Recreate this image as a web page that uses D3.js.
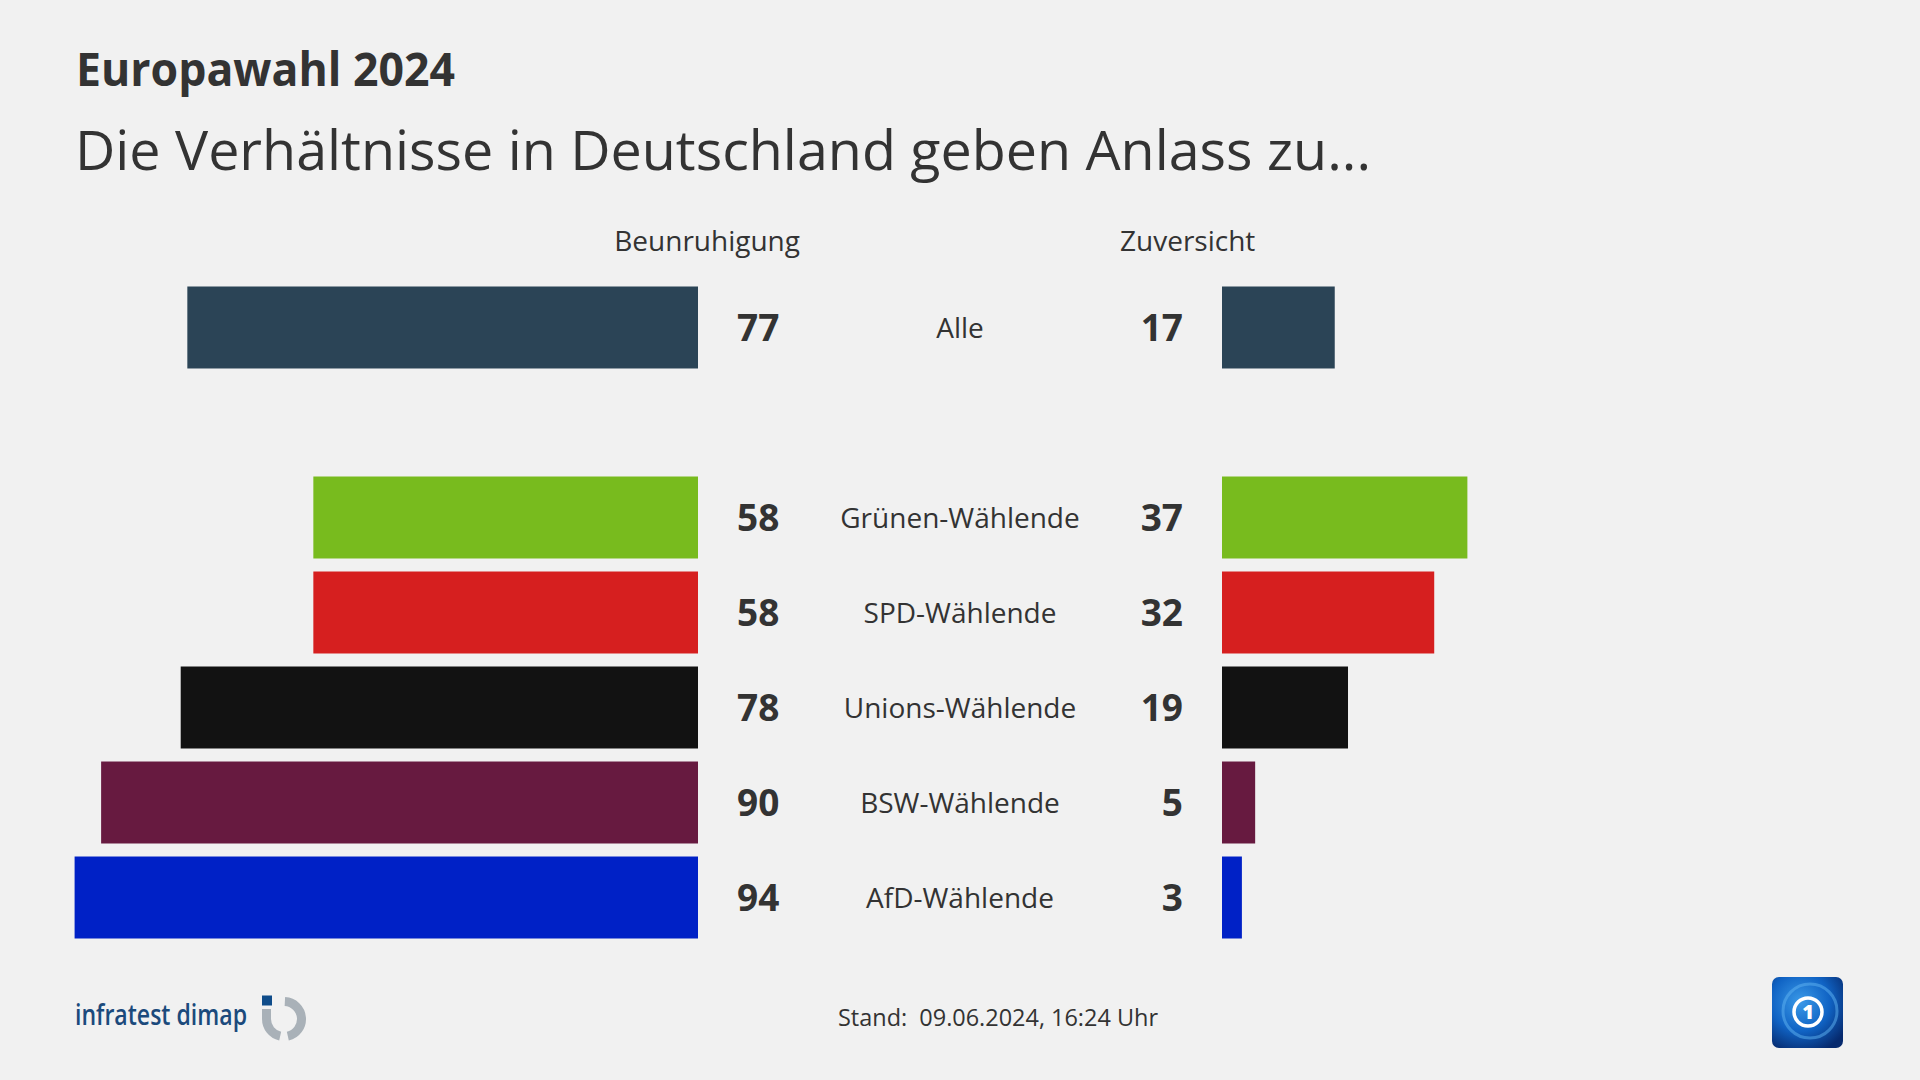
<!DOCTYPE html>
<html>
<head>
<meta charset="utf-8">
<script src="https://cdn.jsdelivr.net/npm/d3@7"></script>
<style>
  html, body { margin: 0; padding: 0; background: #f1f1f1; }
  svg { display: block; }
  text { font-family: "Open Sans", "Noto Sans", sans-serif; fill: #333333; }
</style>
</head>
<body>
<svg id="chart" width="1920" height="1080"></svg>
<script>
// ---- data ----
const categories = ["Alle", "Grünen-Wählende", "SPD-Wählende", "Unions-Wählende", "BSW-Wählende", "AfD-Wählende"];
const beunruhigung = [77, 58, 58, 78, 90, 94];
const zuversicht = [17, 37, 32, 19, 5, 3];
const barColors = ["#2b4456", "#78bb1e", "#d61f1f", "#121212", "#671a40", "#0021c6"];
const headers = ["Beunruhigung", "Zuversicht"];
const title = "Europawahl 2024";
const subtitle = "Die Verhältnisse in Deutschland geben Anlass zu...";
const stand = "Stand:\u00a0 09.06.2024, 16:24 Uhr";
const source = "infratest dimap";

// ---- layout ----
const svg = d3.select("#chart");
const W = 1920, H = 1080;
svg.append("rect").attr("width", W).attr("height", H).attr("fill", "#f1f1f1");

const center = 960;
const leftZero = 698, rightZero = 1222;
const pxPerUnit = 6.632;

const xLeft = d3.scaleLinear().domain([0, 100]).range([leftZero, leftZero - 100 * pxPerUnit]);
const xRight = d3.scaleLinear().domain([0, 100]).range([rightZero, rightZero + 100 * pxPerUnit]);

const bandDomain = [categories[0], "__gap__", ...categories.slice(1)];
const y = d3.scaleBand().domain(bandDomain).range([286.5, 938.5]).paddingInner(0.137).paddingOuter(0);

const rows = categories.map((c, i) => ({ cat: c, left: beunruhigung[i], right: zuversicht[i], color: barColors[i] }));

// titles
svg.append("text").attr("x", 76).attr("y", 86)
  .attr("font-size", 46).attr("font-weight", 700)
  .attr("textLength", 379).attr("lengthAdjust", "spacingAndGlyphs")
  .text(title);
svg.append("text").attr("x", 75).attr("y", 170)
  .attr("font-size", 55).attr("font-weight", 400)
  .attr("textLength", 1296).attr("lengthAdjust", "spacingAndGlyphs")
  .text(subtitle);

// column headers
svg.append("text").attr("x", 800).attr("y", 251).attr("text-anchor", "end")
  .attr("font-size", 28).text(headers[0]);
svg.append("text").attr("x", 1120).attr("y", 251).attr("text-anchor", "start")
  .attr("font-size", 28).text(headers[1]);

// bars
const g = svg.append("g");
g.selectAll("rect.left").data(rows).join("rect")
  .attr("class", "left")
  .attr("x", d => xLeft(d.left))
  .attr("y", d => y(d.cat))
  .attr("width", d => xLeft(0) - xLeft(d.left))
  .attr("height", y.bandwidth())
  .attr("fill", d => d.color);

g.selectAll("rect.right").data(rows).join("rect")
  .attr("class", "right")
  .attr("x", xRight(0))
  .attr("y", d => y(d.cat))
  .attr("width", d => xRight(d.right) - xRight(0))
  .attr("height", y.bandwidth())
  .attr("fill", d => d.color);

// values
g.selectAll("text.lv").data(rows).join("text")
  .attr("class", "lv")
  .attr("x", 737)
  .attr("y", d => y(d.cat) + y.bandwidth() / 2)
  .attr("dy", "0.36em")
  .attr("font-size", 37).attr("font-weight", 700)
  .attr("text-anchor", "start")
  .text(d => d.left);

g.selectAll("text.rv").data(rows).join("text")
  .attr("class", "rv")
  .attr("x", 1183)
  .attr("y", d => y(d.cat) + y.bandwidth() / 2)
  .attr("dy", "0.36em")
  .attr("font-size", 37).attr("font-weight", 700)
  .attr("text-anchor", "end")
  .text(d => d.right);

// category labels
g.selectAll("text.cat").data(rows).join("text")
  .attr("class", "cat")
  .attr("x", center)
  .attr("y", d => y(d.cat) + y.bandwidth() / 2)
  .attr("dy", "0.36em")
  .attr("font-size", 28)
  .attr("text-anchor", "middle")
  .text(d => d.cat);

// footer: stand
svg.append("text").attr("x", 838).attr("y", 1026).attr("text-anchor", "start")
  .attr("font-size", 24)
  .attr("textLength", 320).attr("lengthAdjust", "spacingAndGlyphs")
  .text(stand);

// footer: infratest dimap logo
svg.append("text").attr("x", 75).attr("y", 1025)
  .attr("font-size", 28).attr("font-weight", 600).style("fill", "#1b4a7c")
  .attr("textLength", 172).attr("lengthAdjust", "spacingAndGlyphs")
  .text(source);
const logo = svg.append("g").attr("transform", "translate(284,1019)");
const ringArc = d3.arc().innerRadius(13).outerRadius(22);
logo.append("path").attr("d", ringArc({ startAngle: 0.05, endAngle: Math.PI * 0.93 })).attr("fill", "#a9b1b8");
logo.append("path").attr("d", ringArc({ startAngle: Math.PI * 1.07, endAngle: Math.PI * 1.5 })).attr("fill", "#a9b1b8");
logo.append("rect").attr("x", -22).attr("y", -10).attr("width", 9).attr("height", 10).attr("fill", "#a9b1b8");
logo.append("rect").attr("x", -22).attr("y", -23.5).attr("width", 10).attr("height", 10).attr("fill", "#0f4c8a");

// footer: tagesschau / ARD logo
const defs = svg.append("defs");
const grad = defs.append("radialGradient").attr("id", "ardGrad").attr("cx", "40%").attr("cy", "35%").attr("r", "75%");
grad.append("stop").attr("offset", "0%").attr("stop-color", "#3a9ae8");
grad.append("stop").attr("offset", "55%").attr("stop-color", "#1063c4");
grad.append("stop").attr("offset", "100%").attr("stop-color", "#062a6e");
const ard = svg.append("g").attr("transform", "translate(1772,977)");
ard.append("rect").attr("width", 71).attr("height", 71).attr("rx", 7).attr("fill", "url(#ardGrad)");
ard.append("circle").attr("cx", 38).attr("cy", 34).attr("r", 27).attr("fill", "none")
  .attr("stroke", "#5fb4f2").attr("stroke-width", 3).attr("opacity", 0.5);
ard.append("circle").attr("cx", 36).attr("cy", 35).attr("r", 14).attr("fill", "none")
  .attr("stroke", "#ffffff").attr("stroke-width", 3.5);
ard.append("text").attr("x", 36).attr("y", 35).attr("dy", "0.36em").attr("text-anchor", "middle")
  .attr("font-size", 20).attr("font-weight", 800).style("fill", "#ffffff").text("1");
</script>
</body>
</html>
